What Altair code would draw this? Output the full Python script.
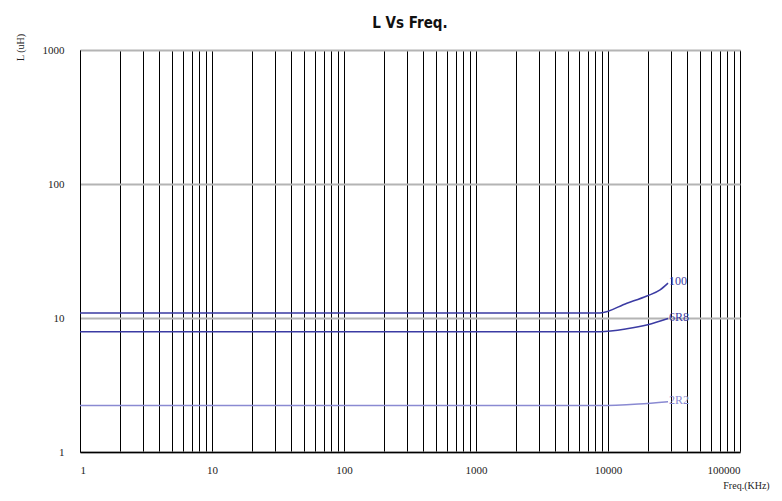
import altair as alt
import pandas as pd

# Data
series_names = ["100", "6R8", "2R2"]
freq_100 = [1, 8700, 13900, 19700, 24800, 28500]
ind_100 = [10.9, 10.9, 12.9, 14.6, 16.2, 18.2]
freq_6R8 = [1, 8700, 13900, 20000, 28500]
ind_6R8 = [7.9, 7.9, 8.3, 8.9, 9.9]
freq_2R2 = [1, 8700, 17000, 28500]
ind_2R2 = [2.22, 2.22, 2.28, 2.37]
colors = ["#3b3ba3", "#3b3ba3", "#8a8ad2"]

x_ticks = [m * 10 ** k for k in range(5) for m in range(1, 10)] + [100000]
y_ticks = [1, 10, 100, 1000]

rows = []
for name, fs, ls in [("100", freq_100, ind_100), ("6R8", freq_6R8, ind_6R8), ("2R2", freq_2R2, ind_2R2)]:
    for i, (f, l) in enumerate(zip(fs, ls)):
        rows.append({"series": name, "freq": f, "L": l, "order": i})
df = pd.DataFrame(rows)
ends = df.sort_values("order").groupby("series").tail(1)

xscale = alt.Scale(type="log", domain=[1, 100000])
yscale = alt.Scale(type="log", domain=[1, 1000])
cscale = alt.Scale(domain=series_names, range=colors)

x_enc = alt.X(
    "freq:Q", scale=xscale,
    axis=alt.Axis(
        values=x_ticks, format="d",
        labelExpr="indexof(['1','10','100','1000','10000','100000'], datum.label) >= 0 ? datum.label : ''",
        grid=True, gridColor="#000000", gridWidth=1, gridOpacity=1,
        ticks=False, domain=True, domainColor="#000000", domainWidth=1.5,
        labelFont="Liberation Serif", labelFontSize=11, labelColor="#222222", labelPadding=12,
        title="Freq.(KHz)", titleFont="Liberation Serif", titleFontSize=10, titleFontWeight="normal",
        titleColor="#222222", titleAlign="center", titleBaseline="middle", titleX=666, titleY=33,
    ),
)
y_enc = alt.Y(
    "L:Q", scale=yscale,
    axis=alt.Axis(
        values=y_ticks, format="d",
        grid=True, gridColor="#b4b4b4", gridWidth=2, gridOpacity=1,
        ticks=False, domain=True, domainColor="#000000", domainWidth=1,
        labelFont="Liberation Serif", labelFontSize=11, labelColor="#222222", labelPadding=16,
        title="L (uH)", titleFont="Liberation Serif", titleFontSize=10, titleFontWeight="normal",
        titleColor="#222222", titleAngle=-90, titleAlign="center", titleBaseline="middle",
        titleX=-60, titleY=-3,
    ),
)

lines = alt.Chart(df).mark_line(strokeWidth=1.5, interpolate="monotone").encode(
    x=x_enc, y=y_enc,
    color=alt.Color("series:N", scale=cscale, legend=None),
    order="order:Q",
    detail="series:N",
)

labels = alt.Chart(ends).mark_text(
    align="left", dx=1, dy=-2, font="Liberation Serif", fontSize=12
).encode(
    x=alt.X("freq:Q", scale=xscale),
    y=alt.Y("L:Q", scale=yscale),
    text="series:N",
    color=alt.Color("series:N", scale=cscale, legend=None),
)

chart = alt.layer(lines, labels).properties(
    width=660, height=402,
    title=alt.TitleParams("L Vs Freq.", font="DejaVu Sans Condensed, Liberation Sans", fontSize=15,
                          fontWeight="bold", anchor="middle", offset=2, color="#111111"),
    autosize=alt.AutoSizeParams(type="none"),
    padding={"left": 72, "top": 42, "right": 34, "bottom": 41},
    background="white",
).configure_view(strokeWidth=0)

chart.save("out.html", embed_options={"renderer": "svg", "actions": False})
